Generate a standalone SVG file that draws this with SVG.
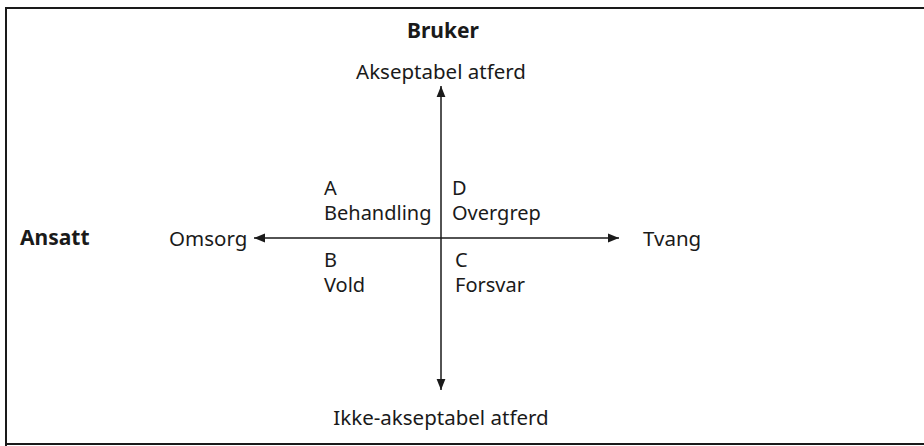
<svg xmlns="http://www.w3.org/2000/svg" width="924" height="446" viewBox="0 0 924 446">
  <style>
    .t { font-family: "Noto Sans", "Open Sans", sans-serif; font-size: 20.5px; fill: #1a1a1a; }
    .q { font-size: 20px; }
    .b { font-weight: bold; font-size: 21px; }
    .ax { stroke: #1a1a1a; stroke-width: 1.5; fill: none; }
  </style>
  <defs>
    <marker id="arr" viewBox="0 0 10 10" refX="10" refY="5" markerWidth="11" markerHeight="11" markerUnits="userSpaceOnUse" orient="auto">
      <path d="M0,1 L10,5 L0,9 Z" fill="#1a1a1a"/>
    </marker>
  </defs>
  <rect width="924" height="446" fill="#ffffff"/>
  <!-- outer frame, open on the right -->
  <path d="M6,446 V8 H924 M6,444 H924" stroke="#1a1a1a" stroke-width="2" fill="none"/>

  <g id="connectors">
    <line class="ax" x1="441" y1="238" x2="441" y2="86" marker-end="url(#arr)"/>
    <line class="ax" x1="441" y1="238" x2="441" y2="390" marker-end="url(#arr)"/>
    <line class="ax" x1="441" y1="238" x2="254" y2="238" marker-end="url(#arr)"/>
    <line class="ax" x1="441" y1="238" x2="619" y2="238" marker-end="url(#arr)"/>
  </g>

  <g id="bruker"><text class="t b" x="443" y="38" text-anchor="middle">Bruker</text></g>
  <g id="ansatt"><text class="t b" x="20" y="245">Ansatt</text></g>
  <g id="akseptabel"><text class="t" x="441" y="79" text-anchor="middle">Akseptabel atferd</text></g>
  <g id="ikke-akseptabel"><text class="t" x="441" y="425" text-anchor="middle">Ikke-akseptabel atferd</text></g>
  <g id="omsorg"><text class="t" x="169" y="246">Omsorg</text></g>
  <g id="tvang"><text class="t" x="643" y="246">Tvang</text></g>
  <g id="quad-a"><text class="t q" x="324" y="195">A</text><text class="t q" x="324" y="220">Behandling</text></g>
  <g id="quad-d"><text class="t q" x="452" y="195">D</text><text class="t q" x="452" y="220">Overgrep</text></g>
  <g id="quad-b"><text class="t q" x="324" y="267">B</text><text class="t q" x="324" y="292">Vold</text></g>
  <g id="quad-c"><text class="t q" x="455" y="267">C</text><text class="t q" x="455" y="292">Forsvar</text></g>
</svg>
